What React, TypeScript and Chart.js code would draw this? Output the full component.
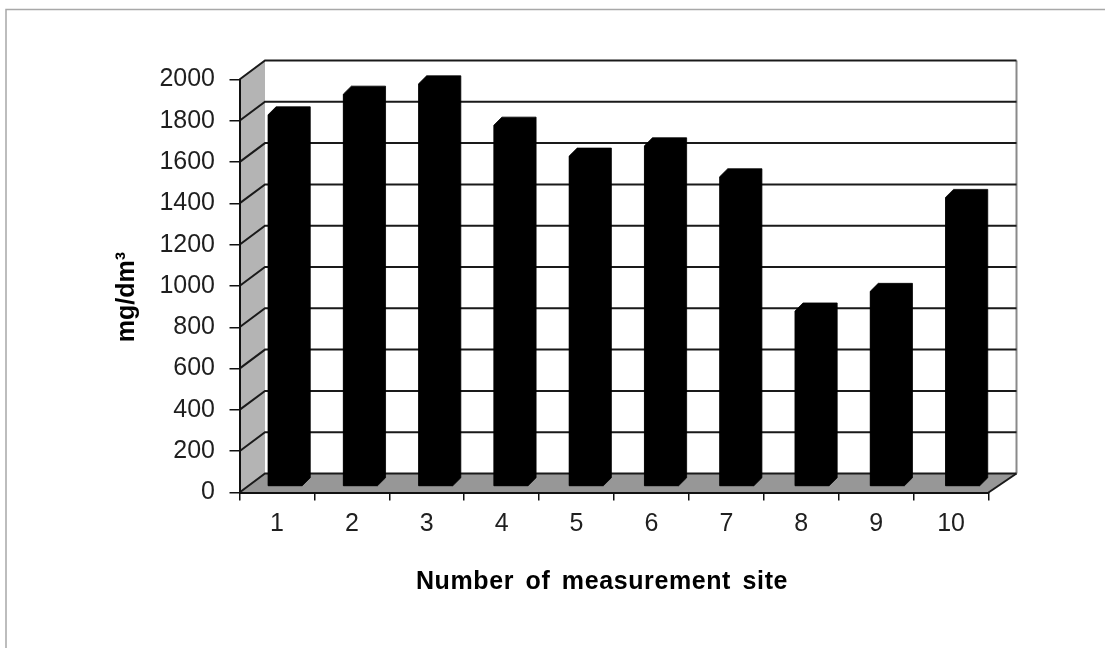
import React, { useEffect, useRef } from "react";
import { Chart, registerables } from "chart.js";

Chart.register(...registerables);

// ---- data ----
const categories = ["1", "2", "3", "4", "5", "6", "7", "8", "9", "10"];
const concentrations = [1800, 1900, 1950, 1750, 1600, 1650, 1500, 850, 945, 1400];
const yTickValues = [0, 200, 400, 600, 800, 1000, 1200, 1400, 1600, 1800, 2000];
const yAxisTitle = "mg/dm³";
const xAxisTitle = "Number of measurement site";

// ---- styling ----
const FONT = "'Liberation Sans', Arial, Helvetica, sans-serif";
const W = 1105;
const H = 648;
const DEPTH_X_LEFT = 25.5;
const DEPTH_X_RIGHT = 28;
const DEPTH_Y = -19;
const BAR_SHIFT_X = 8;
const BAR_SHIFT_Y = -6;
const BAR_DEPTH = 8;
const BAR_XSCALE = 1.005;

const wallPlugin = {
  id: "wall3d",
  beforeDraw(chart: any) {
    const { ctx, chartArea: a, scales } = chart;
    const ys = scales.y;
    const L = a.left, R = a.right, T = a.top, B = a.bottom;
    const bx = (x: number) => x + DEPTH_X_LEFT + ((x - L) / (R - L)) * (DEPTH_X_RIGHT - DEPTH_X_LEFT);
    ctx.save();
    ctx.fillStyle = "#ffffff";
    ctx.fillRect(0, 0, W, H);
    // outer frame
    ctx.strokeStyle = "#a8a8a8";
    ctx.lineWidth = 1.5;
    ctx.strokeRect(6, 9.5, W + 100, H + 100);
    // side wall
    ctx.fillStyle = "#b4b4b4";
    ctx.beginPath();
    ctx.moveTo(L, T);
    ctx.lineTo(bx(L), T + DEPTH_Y);
    ctx.lineTo(bx(L), B + DEPTH_Y);
    ctx.lineTo(L, B);
    ctx.closePath();
    ctx.fill();
    // floor
    ctx.fillStyle = "#979797";
    ctx.beginPath();
    ctx.moveTo(L, B);
    ctx.lineTo(R, B);
    ctx.lineTo(bx(R), B + DEPTH_Y);
    ctx.lineTo(bx(L), B + DEPTH_Y);
    ctx.closePath();
    ctx.fill();
    // back wall right edge
    ctx.strokeStyle = "#8a8a8a";
    ctx.lineWidth = 2;
    ctx.beginPath();
    ctx.moveTo(bx(R), T + DEPTH_Y);
    ctx.lineTo(bx(R), B + DEPTH_Y);
    ctx.stroke();
    // gridlines on side and back wall
    ctx.strokeStyle = "#1a1a1a";
    ctx.lineWidth = 2;
    for (const t of ys.ticks) {
      const py = ys.getPixelForValue(t.value);
      ctx.beginPath();
      ctx.moveTo(L, py);
      ctx.lineTo(bx(L), py + DEPTH_Y);
      ctx.lineTo(bx(R), py + DEPTH_Y);
      ctx.stroke();
    }
    // floor right edge
    ctx.beginPath();
    ctx.moveTo(R, B);
    ctx.lineTo(bx(R), B + DEPTH_Y);
    ctx.stroke();
    ctx.restore();
  },
  beforeDatasetsDraw(chart: any) {
    const { ctx, chartArea: a } = chart;
    ctx.save();
    ctx.translate(a.left + BAR_SHIFT_X, BAR_SHIFT_Y);
    ctx.scale(BAR_XSCALE, 1);
    ctx.translate(-a.left, 0);
  },
  afterDatasetsDraw(chart: any) {
    const { ctx } = chart;
    const meta = chart.getDatasetMeta(0);
    ctx.fillStyle = "#000000";
    ctx.strokeStyle = "#000000";
    ctx.lineWidth = 0.8;
    ctx.lineJoin = "miter";
    for (const el of meta.data) {
      const p = el.getProps(["x", "y", "base", "width"], true);
      const l = p.x - p.width / 2;
      const r = p.x + p.width / 2;
      const top = Math.min(p.y, p.base);
      const bot = Math.max(p.y, p.base);
      ctx.beginPath();
      ctx.moveTo(l, bot);
      ctx.lineTo(l, top);
      ctx.lineTo(l + BAR_DEPTH, top - BAR_DEPTH);
      ctx.lineTo(r + BAR_DEPTH, top - BAR_DEPTH);
      ctx.lineTo(r + BAR_DEPTH, bot - BAR_DEPTH);
      ctx.lineTo(r, bot);
      ctx.closePath();
      ctx.fill();
      ctx.stroke();
    }
    ctx.restore();
  },
  afterDraw(chart: any) {
    const { ctx } = chart;
    ctx.save();
    ctx.fillStyle = "#000000";
    ctx.font = `bold 25px ${FONT}`;
    // x axis title
    (ctx as any).letterSpacing = "0.6px";
    (ctx as any).wordSpacing = "4px";
    ctx.textAlign = "center";
    ctx.textBaseline = "alphabetic";
    ctx.fillText(xAxisTitle, 602, 589);
    (ctx as any).letterSpacing = "0px";
    (ctx as any).wordSpacing = "0px";
    // y axis title
    ctx.translate(127, 297);
    ctx.rotate(-Math.PI / 2);
    ctx.textBaseline = "middle";
    ctx.fillText(yAxisTitle, 0, 0);
    ctx.restore();
  },
};

export default function App() {
  const ref = useRef<HTMLCanvasElement | null>(null);
  useEffect(() => {
    if (!ref.current) return;
    const chart = new Chart(ref.current, {
      type: "bar",
      data: {
        labels: categories,
        datasets: [
          {
            data: concentrations,
            backgroundColor: "#000000",
            borderWidth: 0,
            categoryPercentage: 1,
            barPercentage: 0.454,
            clip: false as any,
          },
        ],
      },
      options: {
        responsive: false,
        animation: false,
        events: [],
        layout: { padding: { top: 79.5, right: 116.5, bottom: 0, left: 0 } },
        plugins: { legend: { display: false }, tooltip: { enabled: false }, title: { display: false } },
        scales: {
          x: {
            ticks: { font: { family: FONT, size: 25 }, color: "#1f1f1f", padding: 9, maxRotation: 0 },
            grid: { offset: true, drawOnChartArea: false, drawTicks: true, tickLength: 8, color: "#111111", lineWidth: 1.5 },
            border: { display: true, color: "#111111", width: 2 },
            afterFit: (s: any) => {
              s.height = 155.5;
            },
          },
          y: {
            min: 0,
            max: 2000,
            afterBuildTicks: (s: any) => {
              s.ticks = yTickValues.map((v) => ({ value: v }));
            },
            ticks: {
              font: { family: FONT, size: 25 },
              color: "#1f1f1f",
              padding: 14.5,
              callback: (v: any) => String(v),
            },
            grid: { drawOnChartArea: false, drawTicks: true, tickLength: 10, color: "#111111", lineWidth: 1.5 },
            border: { display: true, color: "#111111", width: 2 },
            afterFit: (s: any) => {
              s.width = 239.5;
            },
          },
        },
      },
      plugins: [wallPlugin],
    });
    return () => chart.destroy();
  }, []);
  return (
    <div style={{ position: "fixed", left: 0, top: 0, width: W, height: H, background: "#fff" }}>
      <canvas ref={ref} width={W} height={H} style={{ display: "block", width: W, height: H }} />
    </div>
  );
}
